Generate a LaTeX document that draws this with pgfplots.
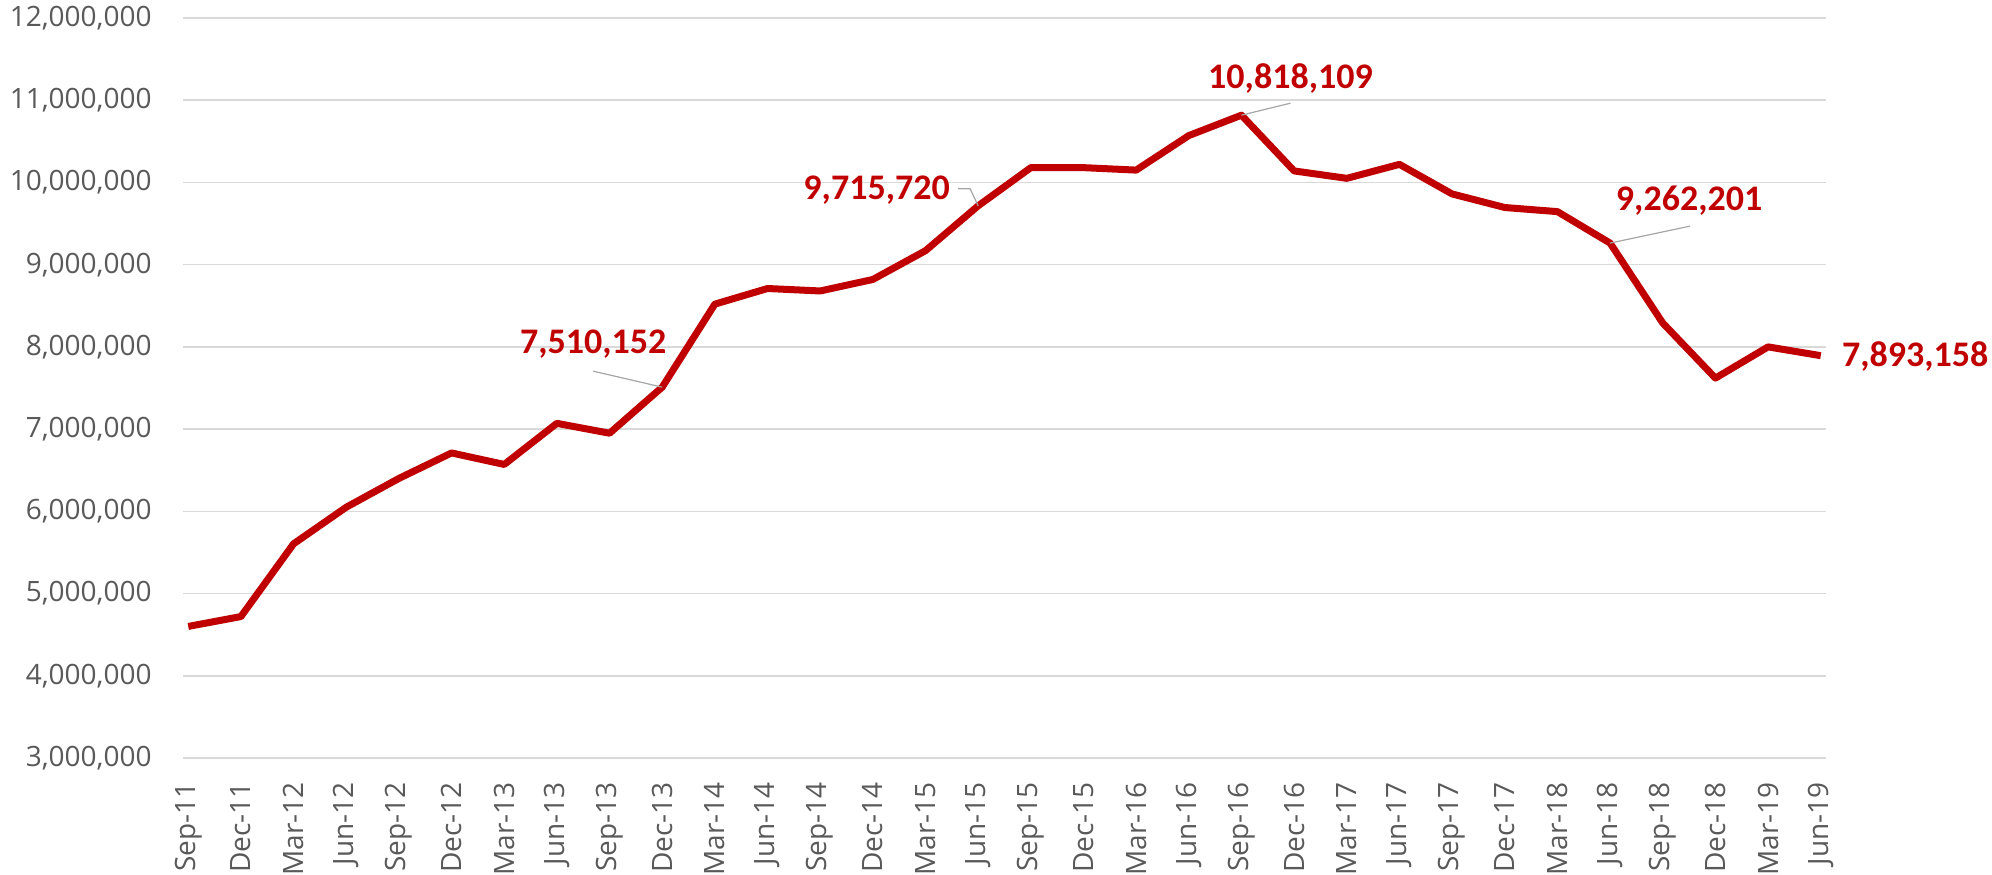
\documentclass[border=0pt]{standalone}
\usepackage{pgfplots}
\pgfplotsset{compat=1.18}
\usepackage{pgfplotstable}
\usepackage{fontspec}
\setmainfont{Open Sans}
\newfontfamily\calibri{Carlito}
\definecolor{tickgray}{HTML}{595959}
\definecolor{gridgray}{HTML}{D9D9D9}
\definecolor{darkred}{HTML}{C00000}
\definecolor{leadergray}{HTML}{A6A6A6}

\pgfplotstableread{
x y
0 4600000
1 4720000
2 5605000
3 6050000
4 6400000
5 6710000
6 6570000
7 7070000
8 6950000
9 7510152
10 8520000
11 8710000
12 8680000
13 8820000
14 9170000
15 9715720
16 10180000
17 10180000
18 10150000
19 10570000
20 10818109
21 10140000
22 10050000
23 10220000
24 9860000
25 9695000
26 9645000
27 9262201
28 8290000
29 7620000
30 8000000
31 7893158
}\datatable

\tikzset{dlabel/.style={font=\calibri\bfseries\fontsize{18}{20}\selectfont, text=darkred, inner sep=0pt}}

\begin{document}
\begin{tikzpicture}
\begin{axis}[
  scale only axis, width=821.5pt, height=370pt,
  xmin=-0.1, xmax=31.1, ymin=3000000, ymax=12000000,
  ytick={3000000,4000000,5000000,6000000,7000000,8000000,9000000,10000000,11000000,12000000},
  scaled y ticks=false,
  xtick={0,...,31},
  xticklabels={Sep-11,Dec-11,Mar-12,Jun-12,Sep-12,Dec-12,Mar-13,Jun-13,Sep-13,Dec-13,Mar-14,Jun-14,Sep-14,Dec-14,Mar-15,Jun-15,Sep-15,Dec-15,Mar-16,Jun-16,Sep-16,Dec-16,Mar-17,Jun-17,Sep-17,Dec-17,Mar-18,Jun-18,Sep-18,Dec-18,Mar-19,Jun-19},
  tick label style={font=\fontsize{14}{16}\selectfont, text=tickgray, inner sep=0pt},
  xticklabel style={rotate=90, anchor=east},
  yticklabel style={anchor=east, /pgf/number format/fixed, /pgf/number format/precision=0, /pgf/number format/1000 sep={,}, /pgf/number format/assume math mode=true},
  xticklabel shift=12pt,
  yticklabel shift=15.5pt,
  axis line style={draw=none},
  major tick length=0pt,
  tick style={draw=none},
  ymajorgrids, xmajorgrids=false,
  major grid style={gridgray, line width=0.75pt},
  clip=false,
]
\addplot[darkred, line width=3.5pt, line join=round] table[x=x,y=y]{\datatable};

% data labels
\draw[leadergray, line width=0.6pt] (axis cs:9,7510152) -- ++(-34.5pt,8pt);
\node[dlabel] at ([xshift=-34.5pt,yshift=21.5pt]axis cs:9,7510152) {7,510,152};

\draw[leadergray, line width=0.6pt] (axis cs:15,9715720) -- ++(-4pt,8.5pt) -- ++(-6pt,0pt);
\node[dlabel, anchor=east] at ([xshift=-14pt,yshift=8pt]axis cs:15,9715720) {9,715,720};

\draw[leadergray, line width=0.6pt] (axis cs:20,10818109) -- ++(24.5pt,6pt);
\node[dlabel] at ([xshift=24.5pt,yshift=18.5pt]axis cs:20,10818109) {10,818,109};

\draw[leadergray, line width=0.6pt] (axis cs:27,9262201) -- ++(40pt,8.5pt);
\node[dlabel] at ([xshift=39.5pt,yshift=21pt]axis cs:27,9262201) {9,262,201};

\node[dlabel, anchor=west] at ([xshift=10.5pt,yshift=-0.5pt]axis cs:31,7893158) {7,893,158};
\end{axis}
\pgfresetboundingbox
\path ([xshift=-91.5pt,yshift=-58.5pt]current axis.south west) rectangle ([xshift=83pt,yshift=9pt]current axis.north east);
\end{tikzpicture}
\end{document}
